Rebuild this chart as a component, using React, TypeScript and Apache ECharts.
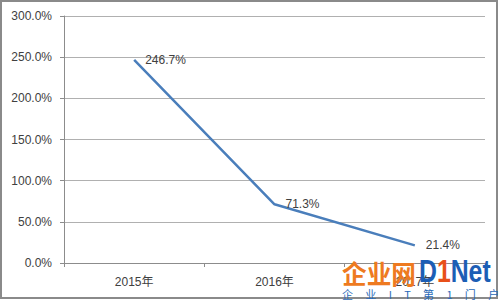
import React, { useEffect, useRef } from "react";
import * as echarts from "echarts";

const categories = ["2015年", "2016年", "2017年"];
const growthValues = [246.7, 71.3, 21.4];
const yTicks = { min: 0, max: 300, interval: 50 };

const FONT = "'Liberation Sans', 'Noto Sans CJK SC', sans-serif";

export default function App() {
  const ref = useRef<HTMLDivElement>(null);
  useEffect(() => {
    if (!ref.current) return;
    const chart = echarts.init(ref.current, undefined, { renderer: "svg" });
    chart.setOption({
      animation: false,
      backgroundColor: "#ffffff",
      textStyle: { fontFamily: FONT },
      grid: { left: 64, right: 15, top: 16, bottom: 37 },
      xAxis: {
        type: "category",
        data: categories,
        boundaryGap: true,
        axisLine: { show: true, lineStyle: { color: "#8c8c8c", width: 1 } },
        axisTick: { show: true, length: 4, alignWithLabel: false, lineStyle: { color: "#8c8c8c" } },
        axisLabel: { color: "#404040", fontSize: 12, fontFamily: FONT, margin: 13 },
        splitLine: { show: false },
      },
      yAxis: {
        type: "value",
        min: yTicks.min,
        max: yTicks.max,
        interval: yTicks.interval,
        axisLine: { show: true, lineStyle: { color: "#8c8c8c", width: 1 } },
        axisTick: { show: true, length: 4, lineStyle: { color: "#8c8c8c" } },
        axisLabel: {
          color: "#404040",
          fontSize: 12,
          fontFamily: FONT,
          margin: 12,
          formatter: (v: number) => v.toFixed(1) + "%",
        },
        splitLine: { show: true, lineStyle: { color: "#b0b0b0", width: 1 } },
      },
      series: [
        {
          type: "line",
          data: growthValues,
          symbol: "circle",
          symbolSize: 0,
          showSymbol: true,
          lineStyle: { color: "#4a7ebb", width: 2.5 },
          itemStyle: { color: "#4a7ebb" },
          label: {
            show: true,
            position: "right",
            distance: 11,
            color: "#404040",
            fontSize: 12,
            fontFamily: FONT,
            formatter: (p: any) => Number(p.value).toFixed(1) + "%",
          },
        },
      ],
      graphic: [
        {
          type: "rect",
          shape: { x: 1, y: 1, width: 496, height: 297 },
          style: { fill: "none", stroke: "#8a8a8a", lineWidth: 2 },
          silent: true,
          z: 100,
        },
        {
          type: "text",
          x: 342,
          y: 260,
          z: 101,
          scaleX: 0.95,
          style: {
            text: "企业网",
            font: "bold 26px 'Noto Sans CJK SC'",
            fill: "#ee7a20",
          },
        },
        {
          type: "text",
          x: 419,
          y: 256,
          z: 101,
          scaleX: 0.8,
          style: {
            text: "{d|D}{o|1}{d|Net}",
            rich: {
              d: { font: "bold 31px 'Liberation Sans'", fill: "#1c5eb5" },
              o: { font: "bold 31px 'Liberation Sans'", fill: "#e8501a" },
            },
          },
        },
        {
          type: "text",
          x: 342,
          y: 288,
          z: 101,
          style: {
            text: "企     业     I     T     第     1     门     户",
            font: "11px 'Noto Sans CJK SC'",
            fill: "#2a6ab8",
          },
        },
      ],
    });
    return () => chart.dispose();
  }, []);
  return (
    <div
      ref={ref}
      style={{ position: "absolute", left: 0, top: 0, width: 500, height: 300 }}
    />
  );
}
